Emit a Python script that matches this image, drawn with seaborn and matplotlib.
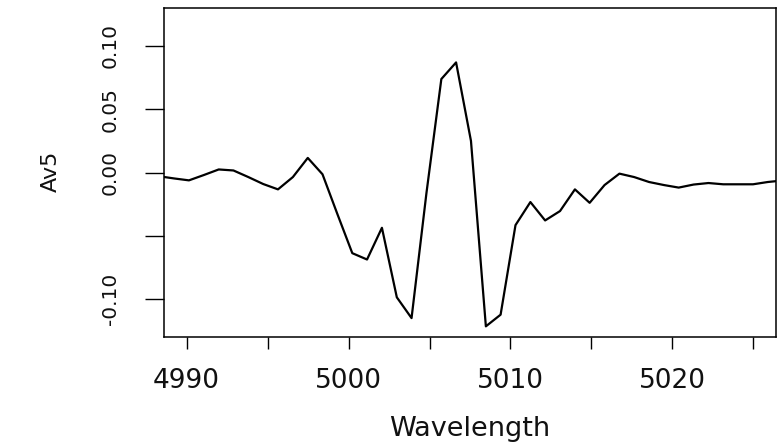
import matplotlib
matplotlib.use("Agg")
import matplotlib.pyplot as plt
import seaborn as sns
import pandas as pd

# Data
wavelength = [4988.31, 4989.23, 4990.14, 4991.06, 4991.98, 4992.89, 4993.81, 4994.73,
              4995.64, 4996.56, 4997.48, 4998.39, 4999.31, 5000.23, 5001.14, 5002.06,
              5002.98, 5003.89, 5004.81, 5005.73, 5006.64, 5007.56, 5008.48, 5009.39,
              5010.31, 5011.23, 5012.14, 5013.06, 5013.98, 5014.89, 5015.81, 5016.73,
              5017.64, 5018.56, 5019.48, 5020.39, 5021.31, 5022.23, 5023.14, 5024.06,
              5024.98, 5025.89, 5026.81]
av5 = [-0.0030, -0.0047, -0.0062, -0.0020, 0.0024, 0.0016, -0.0036, -0.0091,
       -0.0133, -0.0036, 0.0115, -0.0014, -0.0328, -0.0636, -0.0686, -0.0436,
       -0.0984, -0.1148, -0.0162, 0.0737, 0.0868, 0.0249, -0.1213, -0.1121,
       -0.0415, -0.0233, -0.0378, -0.0304, -0.0133, -0.0239, -0.0099, -0.0009,
       -0.0036, -0.0075, -0.0099, -0.0119, -0.0095, -0.0083, -0.0093, -0.0093,
       -0.0093, -0.0075, -0.0063]

x_ticks = [4990, 4995, 5000, 5005, 5010, 5015, 5020, 5025]
x_tick_labels = ["4990", "", "5000", "", "5010", "", "5020", ""]
y_ticks = [-0.10, -0.05, 0.00, 0.05, 0.10]
y_tick_labels = ["-0.10", "", "0.00", "0.05", "0.10"]

df = pd.DataFrame({"Wavelength": wavelength, "Av5": av5})

sns.set_theme(style="white")
plt.rcParams["font.family"] = ["DejaVu Sans"]

fig = plt.figure(figsize=(7.78, 4.44), dpi=100)
ax = fig.add_axes([164 / 778, 1 - 337 / 444, (776 - 164) / 778, (337 - 8) / 444])

sns.lineplot(data=df, x="Wavelength", y="Av5", ax=ax, color="black",
             linewidth=1.6, sort=False)

ax.set_xlim(4988.6, 5026.4)
ax.set_ylim(-0.1297, 0.1297)

for s in ax.spines.values():
    s.set_visible(True)
    s.set_color("black")
    s.set_linewidth(1.1)

ax.set_xticks(x_ticks)
ax.set_xticklabels(x_tick_labels)
ax.set_yticks(y_ticks)
ax.set_yticklabels(y_tick_labels, rotation=90, va="center")

ax.tick_params(axis="x", direction="out", length=8.6, width=1.0, color="black",
               labelsize=19, pad=14, labelcolor="#111111", bottom=True)
ax.tick_params(axis="y", direction="out", length=13.7, width=1.0, color="black",
               labelsize=14.5, pad=18, labelcolor="#111111", left=True)

ax.set_xlabel("Wavelength", fontsize=19.5, color="#111111", va="center")
ax.xaxis.set_label_coords(0.5, -0.281)
ax.set_ylabel("Av5", fontsize=16, color="#111111", rotation=90, va="center", ha="center")
ax.yaxis.set_label_coords(-0.185, 0.505)

fig.savefig("out.png", dpi=100)
